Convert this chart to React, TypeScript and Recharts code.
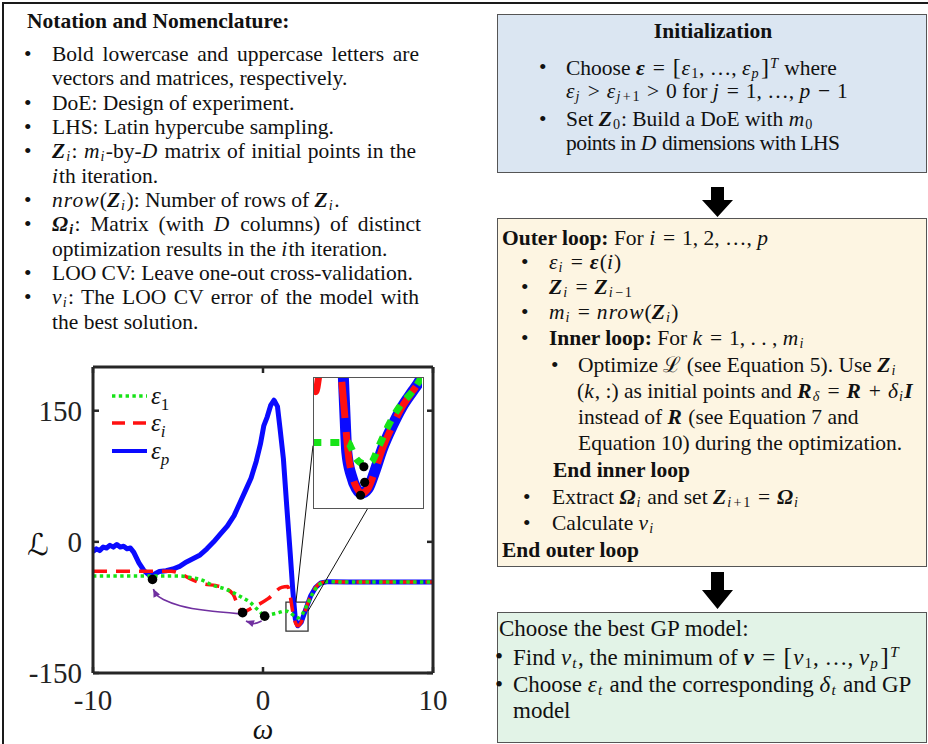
import React from 'react';
import { ComposedChart, LineChart, Line, Scatter, XAxis, YAxis, ReferenceArea, ReferenceLine, Legend } from 'recharts';

// ---------------- data ----------------
const xTicks = [-10, 0, 10];
const yTicks = [-150, 0, 150];
const xDomain = [-10, 10];
const yDomain = [-150, 200];

// epsilon_p (blue solid)
const epsPOmega = [-10, -9.8, -9.6, -9.4, -9.2, -9.0, -8.8, -8.6, -8.4, -8.2, -8.0, -7.8, -7.6, -7.3, -7.0, -6.7, -6.4, -6.1, -5.7, -5.3, -4.9, -4.5, -4.1, -3.7, -3.3, -2.9, -2.5, -2.1, -1.7, -1.35, -1.0, -0.7, -0.4, -0.15, 0.05, 0.25, 0.45, 0.65, 0.85, 1.0, 1.2, 1.4, 1.6, 1.75, 1.9, 2.05, 2.25, 2.5, 2.8, 3.1, 3.4, 3.8, 5, 10];
const epsPValues = [-11, -8, -10, -6, -7, -4, -6, -3, -6, -5, -8, -7, -12, -24, -33, -38, -37, -34, -33, -31, -28, -23, -19, -15, -8, 0, 9, 18, 30, 45, 60, 73, 92, 112, 133, 143, 156, 162, 155, 130, 95, 40, -13, -55, -88, -96, -92, -78, -62, -52, -47, -45.5, -46, -46];

// epsilon_i (red dashed)
const epsIOmega = [-10, -5.4, -4.9, -4.3, -3.5, -2.8, -2.35, -1.76, -1.4, -1.15, -0.6, 0.3, 1.1, 1.45, 1.6, 1.75, 1.9, 2.05, 2.25, 2.5, 2.8, 3.1, 3.4, 3.8, 5, 10];
const epsIValues = [-33.5, -33.5, -36, -42, -48, -50, -52, -60, -76, -80, -75, -65, -52, -51, -62, -80, -92, -96, -92, -78, -62, -52, -47, -45.5, -46, -46];

// epsilon_1 (green dotted)
const eps1Omega = [-10, -4.9, -4.2, -3.7, -2.9, -2.2, -1.75, -1.2, -0.76, -0.4, -0.18, 0.1, 0.5, 0.9, 1.3, 1.6, 1.85, 2.05, 2.3, 2.6, 2.95, 3.3, 3.7, 5, 10];
const eps1Values = [-39, -39, -41, -43, -50, -54, -58, -64, -69, -76, -80, -85, -83, -81, -79, -81, -85, -87, -83, -72, -58, -49, -45.5, -46, -46];

// optimisation results (black dots)
const optimaOmega = [-6.5, -1.2, 0.1];
const optimaValues = [-43, -81, -85];

// purple arrows
const longArrowOmega = [-1.35, -3.31, -4.88, -5.86, -6.3, -6.45];
const longArrowValues = [-82.4, -78.6, -73, -66, -60, -53.8];
const shortArrowOmega = [-0.08, -0.55, -1.0];
const shortArrowValues = [-90.5, -93.5, -90.5];

// zoom window and its connectors
const zoomOmega = [1.35, 2.65];
const zoomValues = [-102, -69];
const connectorA = [{ x: 2.94, y: 110 }, { x: 1.94, y: -68.7 }];
const connectorB = [{ x: 6.18, y: 38.9 }, { x: 2.65, y: -79 }];

// inset (zoomed detail)
const insetPOmega = [1.69, 1.705, 1.725, 1.745, 1.8, 1.86, 1.92, 2.0, 2.08, 2.17, 2.29, 2.41, 2.54, 2.62, 2.68];
const insetPValues = [-62, -69.5, -79.5, -88, -94, -97.3, -98.5, -97.3, -93, -87.3, -81.4, -76.4, -72.3, -69.8, -67];
const insetIOmega = [1.33, 1.37, 1.42, 1.6, 1.68, 1.71, 1.73, 1.76, 1.81, 1.87, 1.92, 2.0, 2.08, 2.17, 2.29, 2.41, 2.54, 2.62, 2.68];
const insetIValues = [-71.5, -72.5, -67, -60, -69, -76, -81, -88, -94, -97.3, -98.5, -97.3, -93, -87.3, -81.4, -76.4, -72.3, -69.8, -67];
const inset1Omega = [1.33, 1.76, 1.8, 1.86, 1.96, 2.04, 2.13, 2.25, 2.39, 2.54, 2.63, 2.68];
const inset1Values = [-85.5, -85.5, -87, -89.7, -91, -90.5, -86.5, -81, -76, -72.3, -69.3, -67.5];
const insetOptOmega = [1.95, 1.96, 1.91];
const insetOptValues = [-91.7, -95.7, -99];

const legendSubs = ['1', 'i', 'p'];

// ---------------- styles ----------------
const SERIF = "'Liberation Serif', 'Times New Roman', Times, serif";
const GREEN = '#17e317';
const RED = '#ff1010';
const BLUE = '#0a0aff';
const PURPLE = '#7030a0';
const legendStyles = [
  { color: GREEN, dash: '3.4 3.4', width: 3.5, italicSub: false },
  { color: RED, dash: '13 8', width: 3.5, italicSub: true },
  { color: BLUE, dash: undefined, width: 4, italicSub: true },
];

const toPts = (ws: number[], ls: number[]) => ws.map((w, i) => ({ w, L: ls[i] }));

const epsP = toPts(epsPOmega, epsPValues);
const epsI = toPts(epsIOmega, epsIValues);
const eps1 = toPts(eps1Omega, eps1Values);
const optima = toPts(optimaOmega, optimaValues);
const longArrow = toPts(longArrowOmega, longArrowValues);
const shortArrow = toPts(shortArrowOmega, shortArrowValues);
const insetP = toPts(insetPOmega, insetPValues);
const insetI = toPts(insetIOmega, insetIValues);
const inset1 = toPts(inset1Omega, inset1Values);
const insetOpt = toPts(insetOptOmega, insetOptValues);

const ArrowHead = (props: any) => {
  const { cx, cy, index, points } = props;
  if (!points || index !== points.length - 1 || index < 1) return <g key={`ah-${index}`} />;
  const prev = points[index - 1];
  const ang = Math.atan2(cy - prev.y, cx - prev.x);
  const len = 8;
  const hw = 3.6;
  const bx = cx - len * Math.cos(ang);
  const by = cy - len * Math.sin(ang);
  const px = -Math.sin(ang);
  const py = Math.cos(ang);
  const pts = `${cx},${cy} ${bx + hw * px},${by + hw * py} ${bx - hw * px},${by - hw * py}`;
  return <polygon key={`ah-${index}`} points={pts} fill={PURPLE} />;
};

const Dot = (r: number) => (props: any) => <circle key={`d-${props.cx}-${props.cy}`} cx={props.cx} cy={props.cy} r={r} fill="#000" />;

const LegendContent = () => (
  <div style={{ fontFamily: SERIF }}>
    {legendSubs.map((s, i) => {
      const st = legendStyles[i];
      return (
        <div key={s} style={{ display: 'flex', alignItems: 'center', height: 27.5 }}>
          <svg width={40} height={10} style={{ display: 'block' }}>
            <line x1={2} x2={37} y1={5} y2={5} stroke={st.color} strokeWidth={st.width} strokeDasharray={st.dash} />
          </svg>
          <span style={{ fontStyle: 'italic', fontSize: 25, color: '#111', marginLeft: 1 }}>
            ε
            <span style={{ fontSize: 17, position: 'relative', top: 6, fontStyle: st.italicSub ? 'italic' : 'normal' }}>{s}</span>
          </span>
        </div>
      );
    })}
  </div>
);

const OmegaLabel = (props: any) => {
  const vb = props.viewBox;
  return (
    <text x={vb.x + vb.width / 2} y={vb.y + vb.height - 5} textAnchor="middle" fontFamily={SERIF} fontStyle="italic" fontSize={29} fill="#111">
      ω
    </text>
  );
};
const LLabel = (props: any) => {
  const vb = props.viewBox;
  return (
    <text x={vb.x + 38} y={vb.y + vb.height / 2 + 35} textAnchor="middle" fontFamily="'DejaVu Serif', 'DejaVu Sans', serif" fontStyle="italic" fontSize={30} fill="#111">
      ℒ
    </text>
  );
};

const axisLine = { stroke: '#262626', strokeWidth: 3 };
const tickLine = { stroke: '#262626', strokeWidth: 2.5 };
const tickFont = { fontSize: 29, fill: '#222', fontFamily: SERIF };
const blank = () => '';

const MainChart = () => (
  <ComposedChart width={460} height={394} margin={{ top: 16, right: 26, bottom: 0, left: 0 }}>
    <XAxis xAxisId="b" type="number" dataKey="w" domain={xDomain} ticks={xTicks} interval={0} allowDataOverflow height={71} tickSize={-6} tickMargin={22} axisLine={axisLine} tickLine={tickLine} tick={tickFont} label={{ content: OmegaLabel }} />
    <XAxis xAxisId="t" orientation="top" type="number" dataKey="w" domain={xDomain} ticks={xTicks} interval={0} allowDataOverflow height={1} tickSize={-6} axisLine={axisLine} tickLine={tickLine} tickFormatter={blank} />
    <YAxis yAxisId="l" type="number" dataKey="L" domain={yDomain} ticks={yTicks} interval={0} allowDataOverflow width={93} tickSize={-6} tickMargin={17} axisLine={axisLine} tickLine={tickLine} tick={tickFont} label={{ content: LLabel }} />
    <YAxis yAxisId="r" orientation="right" type="number" dataKey="L" domain={yDomain} ticks={yTicks} interval={0} allowDataOverflow width={1} tickSize={-6} axisLine={axisLine} tickLine={tickLine} tickFormatter={blank} />
    <Legend layout="vertical" align="center" verticalAlign="middle" wrapperStyle={{ left: 110, top: 32, width: 90, height: 84 }} content={LegendContent} />
    <Line xAxisId="b" yAxisId="l" data={epsP} dataKey="L" type="linear" stroke={BLUE} strokeWidth={5} dot={false} activeDot={false} isAnimationActive={false} strokeLinejoin="round" />
    <Line xAxisId="b" yAxisId="l" data={epsI} dataKey="L" type="monotone" stroke={RED} strokeWidth={3.5} strokeDasharray="14 9" dot={false} activeDot={false} isAnimationActive={false} />
    <Line xAxisId="b" yAxisId="l" data={eps1} dataKey="L" type="monotone" stroke={GREEN} strokeWidth={3.5} strokeDasharray="3.4 3.4" dot={false} activeDot={false} isAnimationActive={false} />
    <ReferenceArea xAxisId="b" yAxisId="l" x1={zoomOmega[0]} x2={zoomOmega[1]} y1={zoomValues[0]} y2={zoomValues[1]} fill="none" stroke="#333" strokeWidth={1.3} ifOverflow="visible" />
    <ReferenceLine xAxisId="b" yAxisId="l" segment={connectorA} stroke="#111" strokeWidth={1} ifOverflow="visible" />
    <ReferenceLine xAxisId="b" yAxisId="l" segment={connectorB} stroke="#111" strokeWidth={1} ifOverflow="visible" />
    <Line xAxisId="b" yAxisId="l" data={longArrow} dataKey="L" type="natural" stroke={PURPLE} strokeWidth={1.6} dot={ArrowHead} activeDot={false} isAnimationActive={false} />
    <Line xAxisId="b" yAxisId="l" data={shortArrow} dataKey="L" type="natural" stroke={PURPLE} strokeWidth={1.6} dot={ArrowHead} activeDot={false} isAnimationActive={false} />
    <Scatter xAxisId="b" yAxisId="l" data={optima} dataKey="L" shape={Dot(4.8)} isAnimationActive={false} />
  </ComposedChart>
);

const InsetChart = () => (
  <LineChart width={108} height={129} margin={{ top: 0, right: 0, bottom: 0, left: 0 }}>
    <XAxis type="number" dataKey="w" domain={zoomOmega} hide allowDataOverflow />
    <YAxis type="number" dataKey="L" domain={zoomValues} hide allowDataOverflow />
    <Line data={insetP} dataKey="L" type="monotone" stroke={BLUE} strokeWidth={11} dot={false} activeDot={false} isAnimationActive={false} strokeLinejoin="round" />
    <Line data={insetI} dataKey="L" type="monotone" stroke={RED} strokeWidth={7} strokeDasharray="36 14" dot={false} activeDot={false} isAnimationActive={false} />
    <Line data={inset1} dataKey="L" type="monotone" stroke={GREEN} strokeWidth={7} strokeDasharray="9 9" dot={false} activeDot={false} isAnimationActive={false} />
    <Line data={insetOpt} dataKey="L" type="linear" stroke="none" dot={Dot(4.6)} activeDot={false} isAnimationActive={false} />
  </LineChart>
);

// ---------------- text helpers ----------------
const M = ({ children }: any) => <span style={{ fontStyle: 'italic', letterSpacing: '0.05em' }}>{children}</span>;
const Bv = ({ children }: any) => <span style={{ fontStyle: 'italic', fontWeight: 700, letterSpacing: '0.05em' }}>{children}</span>;
const Sb = ({ children }: any) => <span style={{ fontSize: '0.66em', position: 'relative', top: '0.18em', lineHeight: 0, marginRight: '0.05em' }}>{children}</span>;
const Sp = ({ children }: any) => <span style={{ fontSize: '0.68em', position: 'relative', top: '-0.5em', lineHeight: 0 }}>{children}</span>;
const Op = ({ children }: any) => <span style={{ margin: '0 0.32em' }}>{children}</span>;
const So = ({ children }: any) => <span style={{ margin: '0 0.12em' }}>{children}</span>;
const Br = ({ children }: any) => <span style={{ fontSize: '1.12em', margin: '0 0.04em' }}>{children}</span>;

type Row = { x: number; y: number; w?: number; bullet?: number; justify?: boolean; center?: boolean; bold?: boolean; size?: number; tight?: boolean; content: React.ReactNode };

const leftRows: Row[] = [
  { x: 27, y: 21, bold: true, content: 'Notation and Nomenclature:' },
  { x: 52, y: 54, bullet: 24, w: 367, justify: true, content: 'Bold lowercase and uppercase letters are' },
  { x: 52, y: 78, content: 'vectors and matrices, respectively.' },
  { x: 52, y: 103, bullet: 24, content: 'DoE: Design of experiment.' },
  { x: 52, y: 127, bullet: 24, content: 'LHS: Latin hypercube sampling.' },
  { x: 52, y: 151, bullet: 24, w: 364, justify: true, content: <><Bv>Z</Bv><Sb><M>i</M></Sb>: <M>m</M><Sb><M>i</M></Sb>-by-<M>D</M> matrix of initial points in the</> },
  { x: 52, y: 176, content: <><M>i</M>th iteration.</> },
  { x: 52, y: 200, bullet: 24, content: <><M>nrow</M>(<Bv>Z</Bv><Sb><M>i</M></Sb>): Number of rows of <Bv>Z</Bv><Sb><M>i</M></Sb>.</> },
  { x: 52, y: 224, bullet: 24, w: 369, justify: true, content: <><Bv>Ω</Bv><Sb><Bv>i</Bv></Sb>: Matrix (with <M>D</M> columns) of distinct</> },
  { x: 52, y: 249, content: <>optimization results in the <M>i</M>th iteration.</> },
  { x: 52, y: 273, bullet: 24, content: 'LOO CV: Leave one-out cross-validation.' },
  { x: 52, y: 297, bullet: 24, w: 367, justify: true, content: <><M>v</M><Sb><M>i</M></Sb>: The LOO CV error of the model with</> },
  { x: 52, y: 322, content: 'the best solution.' },
];

const rightRows: Row[] = [
  { x: 497, y: 31, w: 432, center: true, bold: true, content: 'Initialization' },
  { x: 566, y: 67, bullet: 539, content: <>Choose <Bv>ε</Bv><Op>=</Op><Br>[</Br><M>ε</M><Sb>1</Sb>, …, <M>ε</M><Sb><M>p</M></Sb><Br>]</Br><Sp><M>T</M></Sp> where</> },
  { x: 566, y: 91, content: <><M>ε</M><Sb><M>j</M></Sb><Op>&gt;</Op><M>ε</M><Sb><M>j</M><So>+</So>1</Sb><Op>&gt;</Op>0 for <M>j</M><Op>=</Op>1, …, <M>p</M><Op>−</Op>1</> },
  { x: 566, y: 119, bullet: 539, content: <>Set <Bv>Z</Bv><Sb>0</Sb>: Build a DoE with <M>m</M><Sb>0</Sb></> },
  { x: 566, y: 143, tight: true, content: <>points in <M>D</M> dimensions with LHS</> },

  { x: 502, y: 238, content: <><b>Outer loop:</b> For <M>i</M><Op>=</Op>1, 2, …, <M>p</M></> },
  { x: 549, y: 262, bullet: 521, content: <><M>ε</M><Sb><M>i</M></Sb><Op>=</Op><Bv>ε</Bv>(<M>i</M>)</> },
  { x: 549, y: 287, bullet: 521, content: <><Bv>Z</Bv><Sb><M>i</M></Sb><Op>=</Op><Bv>Z</Bv><Sb><M>i</M><So>−</So>1</Sb></> },
  { x: 549, y: 312, bullet: 521, content: <><M>m</M><Sb><M>i</M></Sb><Op>=</Op><M>nrow</M>(<Bv>Z</Bv><Sb><M>i</M></Sb>)</> },
  { x: 549, y: 338, bullet: 521, content: <><b>Inner loop:</b> For <M>k</M><Op>=</Op>1, . . , <M>m</M><Sb><M>i</M></Sb></> },
  { x: 578, y: 365, bullet: 551, content: <>Optimize ℒ (see Equation 5). Use <Bv>Z</Bv><Sb><M>i</M></Sb></> },
  { x: 577, y: 391, content: <>(<M>k</M>, :) as initial points and <Bv>R</Bv><Sb><M>δ</M></Sb><Op>=</Op><Bv>R</Bv><Op>+</Op><M>δ</M><Sb><M>i</M></Sb><Bv>I</Bv></> },
  { x: 578, y: 417, content: <>instead of <Bv>R</Bv> (see Equation 7 and</> },
  { x: 578, y: 443, content: 'Equation 10) during the optimization.' },
  { x: 553, y: 470, bold: true, content: 'End inner loop' },
  { x: 552, y: 497, bullet: 523, content: <>Extract <Bv>Ω</Bv><Sb><M>i</M></Sb> and set <Bv>Z</Bv><Sb><M>i</M><So>+</So>1</Sb><Op>=</Op><Bv>Ω</Bv><Sb><M>i</M></Sb></> },
  { x: 552, y: 523, bullet: 523, content: <>Calculate <M>v</M><Sb><M>i</M></Sb></> },
  { x: 502, y: 550, bold: true, content: 'End outer loop' },

  { x: 499, y: 629, size: 23, content: 'Choose the best GP model:' },
  { x: 513, y: 657, bullet: 495, size: 23, content: <>Find <M>v</M><Sb><M>t</M></Sb>, the minimum of <Bv>v</Bv><Op>=</Op><Br>[</Br><M>v</M><Sb>1</Sb>, …, <M>v</M><Sb><M>p</M></Sb><Br>]</Br><Sp><M>T</M></Sp></> },
  { x: 513, y: 685, bullet: 495, size: 23, content: <>Choose <M>ε</M><Sb><M>t</M></Sb> and the corresponding <M>δ</M><Sb><M>t</M></Sb> and GP</> },
  { x: 513, y: 711, size: 23, content: 'model' },
];

const TextRow = ({ r }: { r: Row }) => (
  <>
    {r.bullet !== undefined && (
      <div style={{ position: 'absolute', left: r.bullet, top: r.y - 11, height: 22, lineHeight: '22px', fontSize: r.size }}>•</div>
    )}
    <div
      style={{
        position: 'absolute',
        left: r.x,
        top: r.y - 11,
        width: r.w,
        height: 22,
        lineHeight: '22px',
        fontSize: r.size,
        letterSpacing: r.tight ? '-0.025em' : undefined,
        whiteSpace: r.justify ? 'normal' : 'nowrap',
        textAlign: r.justify ? 'justify' : r.center ? 'center' : 'left',
        textAlignLast: r.justify ? 'justify' : r.center ? 'center' : 'auto',
        fontWeight: r.bold ? 700 : 400,
      }}
    >
      {r.content}
    </div>
  </>
);

const boxStyle = (top: number, height: number, bg: string): React.CSSProperties => ({
  position: 'absolute', left: 497, top, width: 430, height, background: bg, border: '1.5px solid #555', boxSizing: 'border-box',
});

export default function App() {
  return (
    <div style={{ position: 'absolute', left: 0, top: 0, width: 928, height: 744, overflow: 'hidden', background: '#fff', fontFamily: SERIF, fontSize: 21.5, color: '#111' }}>
      <div style={{ position: 'absolute', left: 2, top: 2, width: 960, height: 780, borderTop: '2.5px solid #1a1a1a', borderLeft: '2.5px solid #1a1a1a' }} />
      <div style={boxStyle(14, 159, '#dbe6f2')} />
      <div style={boxStyle(218, 349, '#fdf5e2')} />
      <div style={boxStyle(612, 131, '#e2f3e7')} />
      <svg width={928} height={744} style={{ position: 'absolute', left: 0, top: 0 }}>
        <polygon points="711,187 724,187 724,200 733,200 717.5,217 702,200 711,200" fill="#000" />
        <polygon points="711,572 724,572 724,590 733,590 717.5,609 702,590 711,590" fill="#000" />
      </svg>
      {leftRows.map((r, i) => <TextRow key={`l${i}`} r={r} />)}
      {rightRows.map((r, i) => <TextRow key={`r${i}`} r={r} />)}
      <div style={{ position: 'absolute', left: 0, top: 350 }}>
        <MainChart />
      </div>
      <div style={{ position: 'absolute', left: 313, top: 377, width: 111, height: 132, border: '1.5px solid #555', background: '#fff', boxSizing: 'border-box' }}>
        <InsetChart />
      </div>
    </div>
  );
}
